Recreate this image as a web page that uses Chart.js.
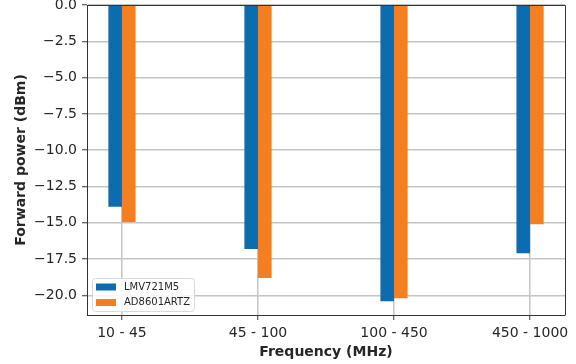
<!DOCTYPE html>
<html>
<head>
<meta charset="utf-8">
<script src="https://cdn.jsdelivr.net/npm/chart.js@4/dist/chart.umd.min.js"></script>
<style>
  body { margin: 0; background: #fff; }
  #wrap { width: 576px; height: 364px; }
</style>
</head>
<body>
<div id="wrap"><canvas id="myChart" width="576" height="364"></canvas></div>
<script>
const categories = ['10 - 45', '45 - 100', '100 - 450', '450 - 1000'];
const lmv721m5 = [-13.9, -16.8, -20.4, -17.1];
const ad8601artz = [-14.95, -18.8, -20.2, -15.1];
const yTicks = [0, -2.5, -5, -7.5, -10, -12.5, -15, -17.5, -20];
const seriesNames = ['LMV721M5', 'AD8601ARTZ'];
const seriesColors = ['#0b6db0', '#f47e22'];

const textColor = '#262626';
const gridColor = '#c4c4c4';
const spineColor = '#333333';

function toPoints(values) {
  return values.map((v, i) => ({x: i, y: v}));
}

function formatY(value) {
  return value.toFixed(1).replace('-', '\u2212');
}

// spines on top / right, plus a matplotlib style legend in the lower left
const framePlugin = {
  id: 'frame',
  afterDraw(chart) {
    const {ctx, chartArea} = chart;
    ctx.save();
    ctx.strokeStyle = spineColor;
    ctx.lineWidth = 1;
    ctx.beginPath();
    ctx.moveTo(chartArea.left, chartArea.top + 0.5);
    ctx.lineTo(chartArea.right + 0.5, chartArea.top + 0.5);
    ctx.lineTo(chartArea.right + 0.5, chartArea.bottom);
    ctx.stroke();

    const boxX = chartArea.left + 5;
    const boxY = chartArea.bottom - 37;
    const boxW = 102;
    const boxH = 33;
    ctx.beginPath();
    if (ctx.roundRect) ctx.roundRect(boxX + 0.5, boxY + 0.5, boxW, boxH, 3);
    else ctx.rect(boxX + 0.5, boxY + 0.5, boxW, boxH);
    ctx.fillStyle = 'rgba(255,255,255,0.85)';
    ctx.fill();
    ctx.strokeStyle = '#d8d8d8';
    ctx.stroke();

    ctx.font = '10px "DejaVu Sans"';
    ctx.textBaseline = 'middle';
    ctx.textAlign = 'left';
    seriesNames.forEach((name, i) => {
      const rowY = boxY + 8.5 + i * 15.5;
      ctx.fillStyle = seriesColors[i];
      ctx.fillRect(boxX + 4, rowY - 3, 20, 7);
      ctx.fillStyle = textColor;
      ctx.fillText(name, boxX + 32, rowY + 0.5);
    });
    ctx.restore();
  }
};

const config = {
  type: 'bar',
  data: {
    datasets: [
      {
        label: seriesNames[0],
        data: toPoints(lmv721m5),
        backgroundColor: seriesColors[0],
        borderWidth: 0
      },
      {
        label: seriesNames[1],
        data: toPoints(ad8601artz),
        backgroundColor: seriesColors[1],
        borderWidth: 0
      }
    ]
  },
  options: {
    responsive: false,
    devicePixelRatio: 1,
    animation: false,
    categoryPercentage: 0.2,
    barPercentage: 1.0,
    layout: {padding: {left: 0, top: 5, right: 11, bottom: 0}},
    plugins: {
      legend: {display: false},
      tooltip: {enabled: false}
    },
    scales: {
      x: {
        type: 'linear',
        min: -0.257,
        max: 3.257,
        offset: false,
        z: 1,
        afterBuildTicks: scale => {
          scale.ticks = categories.map((c, i) => ({value: i}));
        },
        afterFit: scale => {
          scale.height = 49;
          scale.paddingLeft = 0;
          scale.paddingRight = 0;
        },
        ticks: {
          autoSkip: false,
          maxRotation: 0,
          padding: 5,
          color: textColor,
          font: {family: 'DejaVu Sans', size: 14},
          callback: (value, index) => categories[index]
        },
        grid: {
          offset: false,
          color: gridColor,
          lineWidth: 1.5,
          tickColor: spineColor,
          tickLength: 5,
          tickWidth: 1
        },
        border: {display: true, color: spineColor, width: 1},
        title: {
          display: true,
          text: 'Frequency (MHz)',
          color: textColor,
          font: {family: 'DejaVu Sans', size: 14, weight: 'bold'},
          padding: {top: 0, bottom: 3}
        }
      },
      y: {
        min: -21.35,
        max: 0,
        z: 1,
        afterBuildTicks: scale => {
          scale.ticks = yTicks.map(v => ({value: v}));
        },
        afterFit: scale => {
          scale.width = 87;
          scale.paddingTop = 0;
          scale.paddingBottom = 0;
        },
        ticks: {
          padding: 5,
          color: textColor,
          font: {family: 'DejaVu Sans', size: 14},
          callback: value => formatY(value)
        },
        grid: {
          color: gridColor,
          lineWidth: 1.5,
          tickColor: spineColor,
          tickLength: 5,
          tickWidth: 1
        },
        border: {display: true, color: spineColor, width: 1},
        title: {
          display: true,
          text: 'Forward power (dBm)',
          color: textColor,
          font: {family: 'DejaVu Sans', size: 14, weight: 'bold'},
          padding: {top: 12.6, bottom: 0}
        }
      }
    }
  },
  plugins: [framePlugin]
};

const chart = new Chart(document.getElementById('myChart').getContext('2d'), config);
</script>
</body>
</html>
